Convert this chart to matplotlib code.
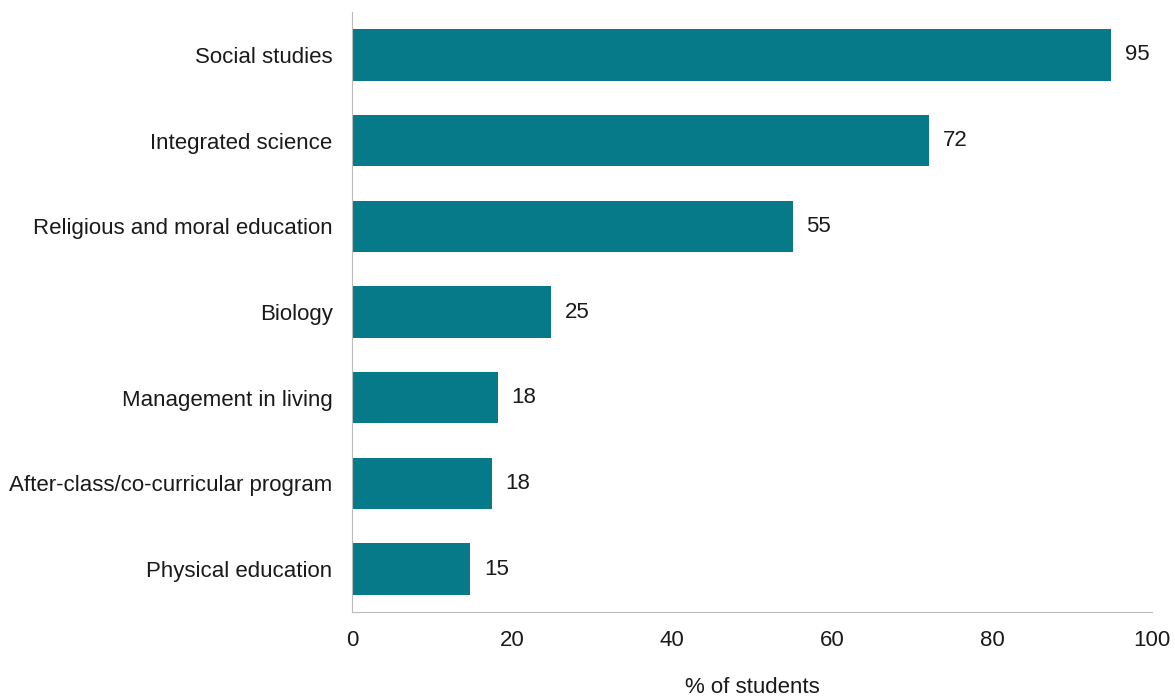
import matplotlib
matplotlib.use("Agg")
import matplotlib.pyplot as plt

plt.rcParams['font.family'] = ['Liberation Sans', 'DejaVu Sans']

subjects = ["Social studies", "Integrated science", "Religious and moral education",
            "Biology", "Management in living", "After-class/co-curricular program",
            "Physical education"]
values = [94.9, 72.1, 55.1, 24.9, 18.2, 17.5, 14.8]
labels = ["95", "72", "55", "25", "18", "18", "15"]

fig = plt.figure(figsize=(11.75, 7), dpi=100)
ax = fig.add_axes([352/1175, 88/700, 800/1175, 600/700])

y = list(range(len(subjects)))
ax.barh(y, values, height=0.6, color="#077A8A")
for yi, v, lab in zip(y, values, labels):
    ax.text(v + 1.7, yi, lab, va="center", ha="left", fontsize=16, color="#1a1a1a")

ax.set_yticks(y)
ax.set_yticklabels(subjects, fontsize=16, color="#1a1a1a")
ax.set_ylim(6.5, -0.5)
ax.set_xlim(0, 100)
ax.set_xticks([0, 20, 40, 60, 80, 100])
ax.tick_params(axis="x", labelsize=16, length=0, pad=13, colors="#1a1a1a")
ax.tick_params(axis="y", length=0, pad=14)
ax.set_xlabel("% of students", fontsize=16, color="#1a1a1a", labelpad=19)

for s in ["top", "right"]:
    ax.spines[s].set_visible(False)
for s in ["left", "bottom"]:
    ax.spines[s].set_color("#bbbbbb")

fig.savefig("out.png", dpi=100)
